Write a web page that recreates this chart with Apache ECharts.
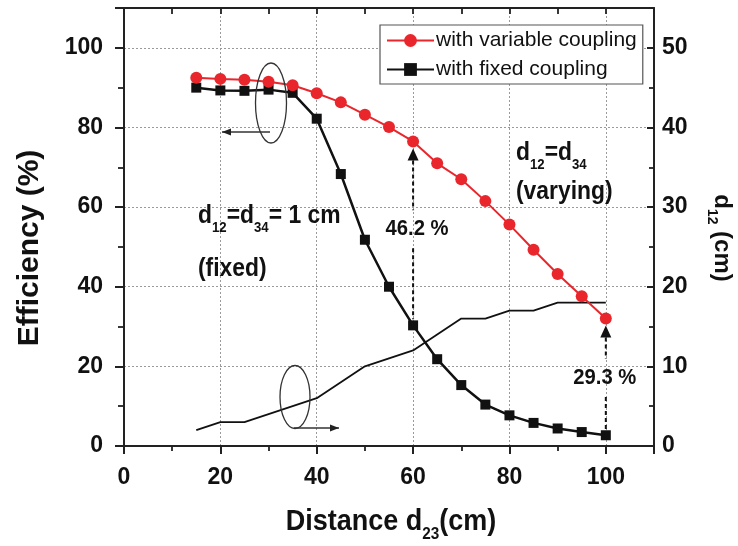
<!DOCTYPE html>
<html>
<head>
<meta charset="utf-8">
<script src="https://cdn.jsdelivr.net/npm/echarts@6/dist/echarts.min.js"></script>
<style>
html,body{margin:0;padding:0;background:#fff;}
#c{width:738px;height:546px;}
</style>
</head>
<body>
<div id="c"></div>
<script>
// ---------------- data ----------------
const distance     = [15, 20, 25, 30, 35, 40, 45, 50, 55, 60, 65, 70, 75, 80, 85, 90, 95, 100];
const effVariable  = [92.5, 92.2, 92.0, 91.5, 90.6, 88.6, 86.3, 83.2, 80.1, 76.5, 71.0, 67.0, 61.5, 55.6, 49.3, 43.2, 37.6, 32.0];
const effFixed     = [90.0, 89.3, 89.2, 89.5, 88.7, 82.2, 68.3, 51.8, 40.0, 30.3, 21.8, 15.3, 10.4, 7.7, 5.8, 4.4, 3.5, 2.7];
const d12Varying   = [2, 3, 3, 4, 5, 6, 8, 10, 11, 12, 14, 16, 16, 17, 17, 18, 18, 18];
const xTickValues      = [0, 20, 40, 60, 80, 100];
const yLeftTickValues  = [0, 20, 40, 60, 80, 100];
const yRightTickValues = [0, 10, 20, 30, 40, 50];
const seriesNames  = ['with variable coupling', 'with fixed coupling', 'd12'];
const gapLabels    = [{x: 60, text: '46.2 %', dx: 4, dy: -4}, {x: 100, text: '29.3 %', dx: -1, dy: 1}];

// ---------------- style ----------------
const FONT = '"Liberation Sans", Arial, Helvetica, sans-serif';
const RED = '#e8262c';
const INK = '#111';
const AX = '#222';

const tickLabel = (vals) => ({
  fontSize: 23, fontWeight: 'bold', color: INK, fontFamily: FONT,
  formatter: (v) => (vals.indexOf(v) >= 0 ? String(v) : '')
});
const hiddenAxisCommon = {
  axisLabel: {show: false}, splitLine: {show: false}
};

const option = {
  animation: false,
  backgroundColor: '#fff',
  grid: {left: 124, right: 84, top: 8, bottom: 100, containLabel: false},
  legend: {
    data: seriesNames.slice(0, 2),
    orient: 'vertical',
    left: 380, top: 25,
    itemWidth: 47, itemHeight: 16, itemGap: 8,
    padding: [5, 6, 4, 6],
    borderColor: '#555', borderWidth: 1.2,
    backgroundColor: '#fff',
    textStyle: {fontSize: 21, color: INK, fontFamily: FONT, padding: [0, 0, 0, -3]}
  },
  xAxis: [
    { // bottom main
      type: 'value', min: 0, max: 110, interval: 20, position: 'bottom',
      axisLine: {show: true, onZero: false, lineStyle: {color: AX, width: 2}},
      axisTick: {show: true, inside: false, length: 8, lineStyle: {color: AX, width: 2}},
      splitLine: {show: true, lineStyle: {color: '#9a9a9a', width: 1, type: [2, 2]}},
      axisLabel: Object.assign({margin: 20}, tickLabel(xTickValues))
    },
    { // bottom minor ticks
      type: 'value', min: 0, max: 110, interval: 10, position: 'bottom',
      axisLine: {show: false, onZero: false},
      axisTick: {show: true, inside: false, length: 5, lineStyle: {color: AX, width: 1.8}},
      ...hiddenAxisCommon
    },
    { // top frame
      type: 'value', min: 0, max: 110, interval: 10, position: 'top',
      axisLine: {show: true, onZero: false, lineStyle: {color: AX, width: 2}},
      axisTick: {show: true, inside: true, length: 6, lineStyle: {color: AX, width: 1.8}},
      ...hiddenAxisCommon
    }
  ],
  yAxis: [
    { // left main
      type: 'value', min: 0, max: 110, interval: 20, position: 'left',
      axisLine: {show: true, onZero: false, lineStyle: {color: AX, width: 2}},
      axisTick: {show: true, inside: false, length: 9, lineStyle: {color: AX, width: 2}},
      splitLine: {show: true, lineStyle: {color: '#9a9a9a', width: 1, type: [2, 2]}},
      axisLabel: Object.assign({margin: 21}, tickLabel(yLeftTickValues))
    },
    { // right main
      type: 'value', min: 0, max: 55, interval: 10, position: 'right',
      axisLine: {show: true, onZero: false, lineStyle: {color: AX, width: 2}},
      axisTick: {show: true, inside: true, length: 7, lineStyle: {color: AX, width: 2}},
      splitLine: {show: false},
      axisLabel: Object.assign({margin: 8}, tickLabel(yRightTickValues))
    },
    { // left minor ticks
      type: 'value', min: 0, max: 110, interval: 10, position: 'left',
      axisLine: {show: false, onZero: false},
      axisTick: {show: true, inside: false, length: 6, lineStyle: {color: AX, width: 1.8}},
      ...hiddenAxisCommon
    },
    { // right minor ticks
      type: 'value', min: 0, max: 55, interval: 5, position: 'right',
      axisLine: {show: false, onZero: false},
      axisTick: {show: true, inside: true, length: 5, lineStyle: {color: AX, width: 1.8}},
      ...hiddenAxisCommon
    }
  ],
  series: [
    {
      name: seriesNames[0], type: 'line', xAxisIndex: 0, yAxisIndex: 0,
      data: distance.map((x, i) => [x, effVariable[i]]),
      symbol: 'circle', symbolSize: 12,
      lineStyle: {color: RED, width: 2},
      itemStyle: {color: RED},
      z: 4
    },
    {
      name: seriesNames[1], type: 'line', xAxisIndex: 0, yAxisIndex: 0,
      data: distance.map((x, i) => [x, effFixed[i]]),
      symbol: 'rect', symbolSize: 10,
      lineStyle: {color: INK, width: 2.5},
      itemStyle: {color: INK},
      z: 3
    },
    {
      name: seriesNames[2], type: 'line', xAxisIndex: 0, yAxisIndex: 1,
      data: distance.map((x, i) => [x, d12Varying[i]]),
      symbol: 'none',
      lineStyle: {color: INK, width: 1.8},
      z: 2
    }
  ]
};

const chart = echarts.init(document.getElementById('c'), null, {renderer: 'canvas'});
chart.setOption(option);

// ---------------- annotations ----------------
const boldRich = (main, sub, pad) => ({
  m: {fontSize: main, fontWeight: 'bold', fontFamily: FONT, color: INK, lineHeight: main + 4},
  s: {fontSize: sub, fontWeight: 'bold', fontFamily: FONT, color: INK, lineHeight: sub, padding: [pad, 0, 0, 0]}
});
const textEl = (x, y, text, opts) => Object.assign({
  type: 'text', x: x, y: y, z: 20,
  style: Object.assign({
    text: text, fill: INK, fontFamily: FONT, fontWeight: 'bold', fontSize: 26,
    align: 'left', verticalAlign: 'middle', textAlign: 'left', textVerticalAlign: 'middle'
  }, opts.style || {})
}, opts.el || {});

const G = [];

// axis titles
G.push(textEl(391, 522, '{m|Distance d}{s|23}{m|(cm)}', {
  el: {scaleX: 0.9},
  style: {align: 'center', textAlign: 'center', rich: boldRich(30, 17, 24)}
}));
G.push(textEl(30, 248, 'Efficiency (%)', {
  el: {rotation: Math.PI / 2},
  style: {align: 'center', textAlign: 'center', fontSize: 30}
}));
G.push(textEl(722, 238, '{m|d}{s|12}{m| (cm)}', {
  el: {rotation: -Math.PI / 2},
  style: {align: 'center', textAlign: 'center', rich: boldRich(24, 14, 20)}
}));

// inner texts
G.push(textEl(198, 216, '{m|d}{s|12}{m|=d}{s|34}{m|= 1 cm}', {
  el: {scaleX: 0.88}, style: {rich: boldRich(26, 15, 24)}
}));
G.push(textEl(198, 269, '(fixed)', {el: {scaleX: 0.88}}));
G.push(textEl(516, 153, '{m|d}{s|12}{m|=d}{s|34}', {
  el: {scaleX: 0.88}, style: {rich: boldRich(26, 15, 24)}
}));
G.push(textEl(516, 192, '(varying)', {el: {scaleX: 0.88}}));

// ellipses with arrows
const ellipseArrow = (cx, cy, rx, ry, ax1, ax2, ay) => {
  G.push({type: 'ellipse', shape: {cx: cx, cy: cy, rx: rx, ry: ry}, z: 15,
    style: {fill: 'none', stroke: '#333', lineWidth: 1.3}});
  G.push({type: 'line', shape: {x1: ax1, y1: ay, x2: ax2, y2: ay}, z: 15,
    style: {stroke: '#333', lineWidth: 1.3}});
  const dir = ax2 > ax1 ? 1 : -1;
  G.push({type: 'polygon', z: 15,
    shape: {points: [[ax2, ay], [ax2 - dir * 9, ay - 3.5], [ax2 - dir * 9, ay + 3.5]]},
    style: {fill: '#222'}});
};
ellipseArrow(271, 103, 15.5, 40, 270, 222, 132);
ellipseArrow(295, 397, 15, 31.5, 294, 339, 428);

// dashed difference arrows
gapLabels.forEach((g) => {
  const i = distance.indexOf(g.x);
  const top = chart.convertToPixel({seriesIndex: 0}, [distance[i], effVariable[i]]);
  const bot = chart.convertToPixel({seriesIndex: 1}, [distance[i], effFixed[i]]);
  const X = top[0];
  const tipY = top[1] + 7;
  const baseY = tipY + 12;
  const midY = (top[1] + bot[1]) / 2 + g.dy;
  G.push({type: 'polygon', z: 12, shape: {points: [[X, tipY], [X - 5.5, baseY], [X + 5.5, baseY]]},
    style: {fill: INK}});
  G.push({type: 'line', z: 12, shape: {x1: X, y1: baseY, x2: X, y2: midY - 19},
    style: {stroke: INK, lineWidth: 2, lineDash: [4, 3]}});
  G.push({type: 'line', z: 12, shape: {x1: X, y1: midY + 19, x2: X, y2: bot[1] - 6},
    style: {stroke: INK, lineWidth: 2, lineDash: [4, 3]}});
  G.push(textEl(X + g.dx, midY, g.text, {
    el: {scaleX: 0.92},
    style: {align: 'center', textAlign: 'center', fontSize: 22}
  }));
});

chart.setOption({graphic: {elements: G}});
</script>
</body>
</html>
